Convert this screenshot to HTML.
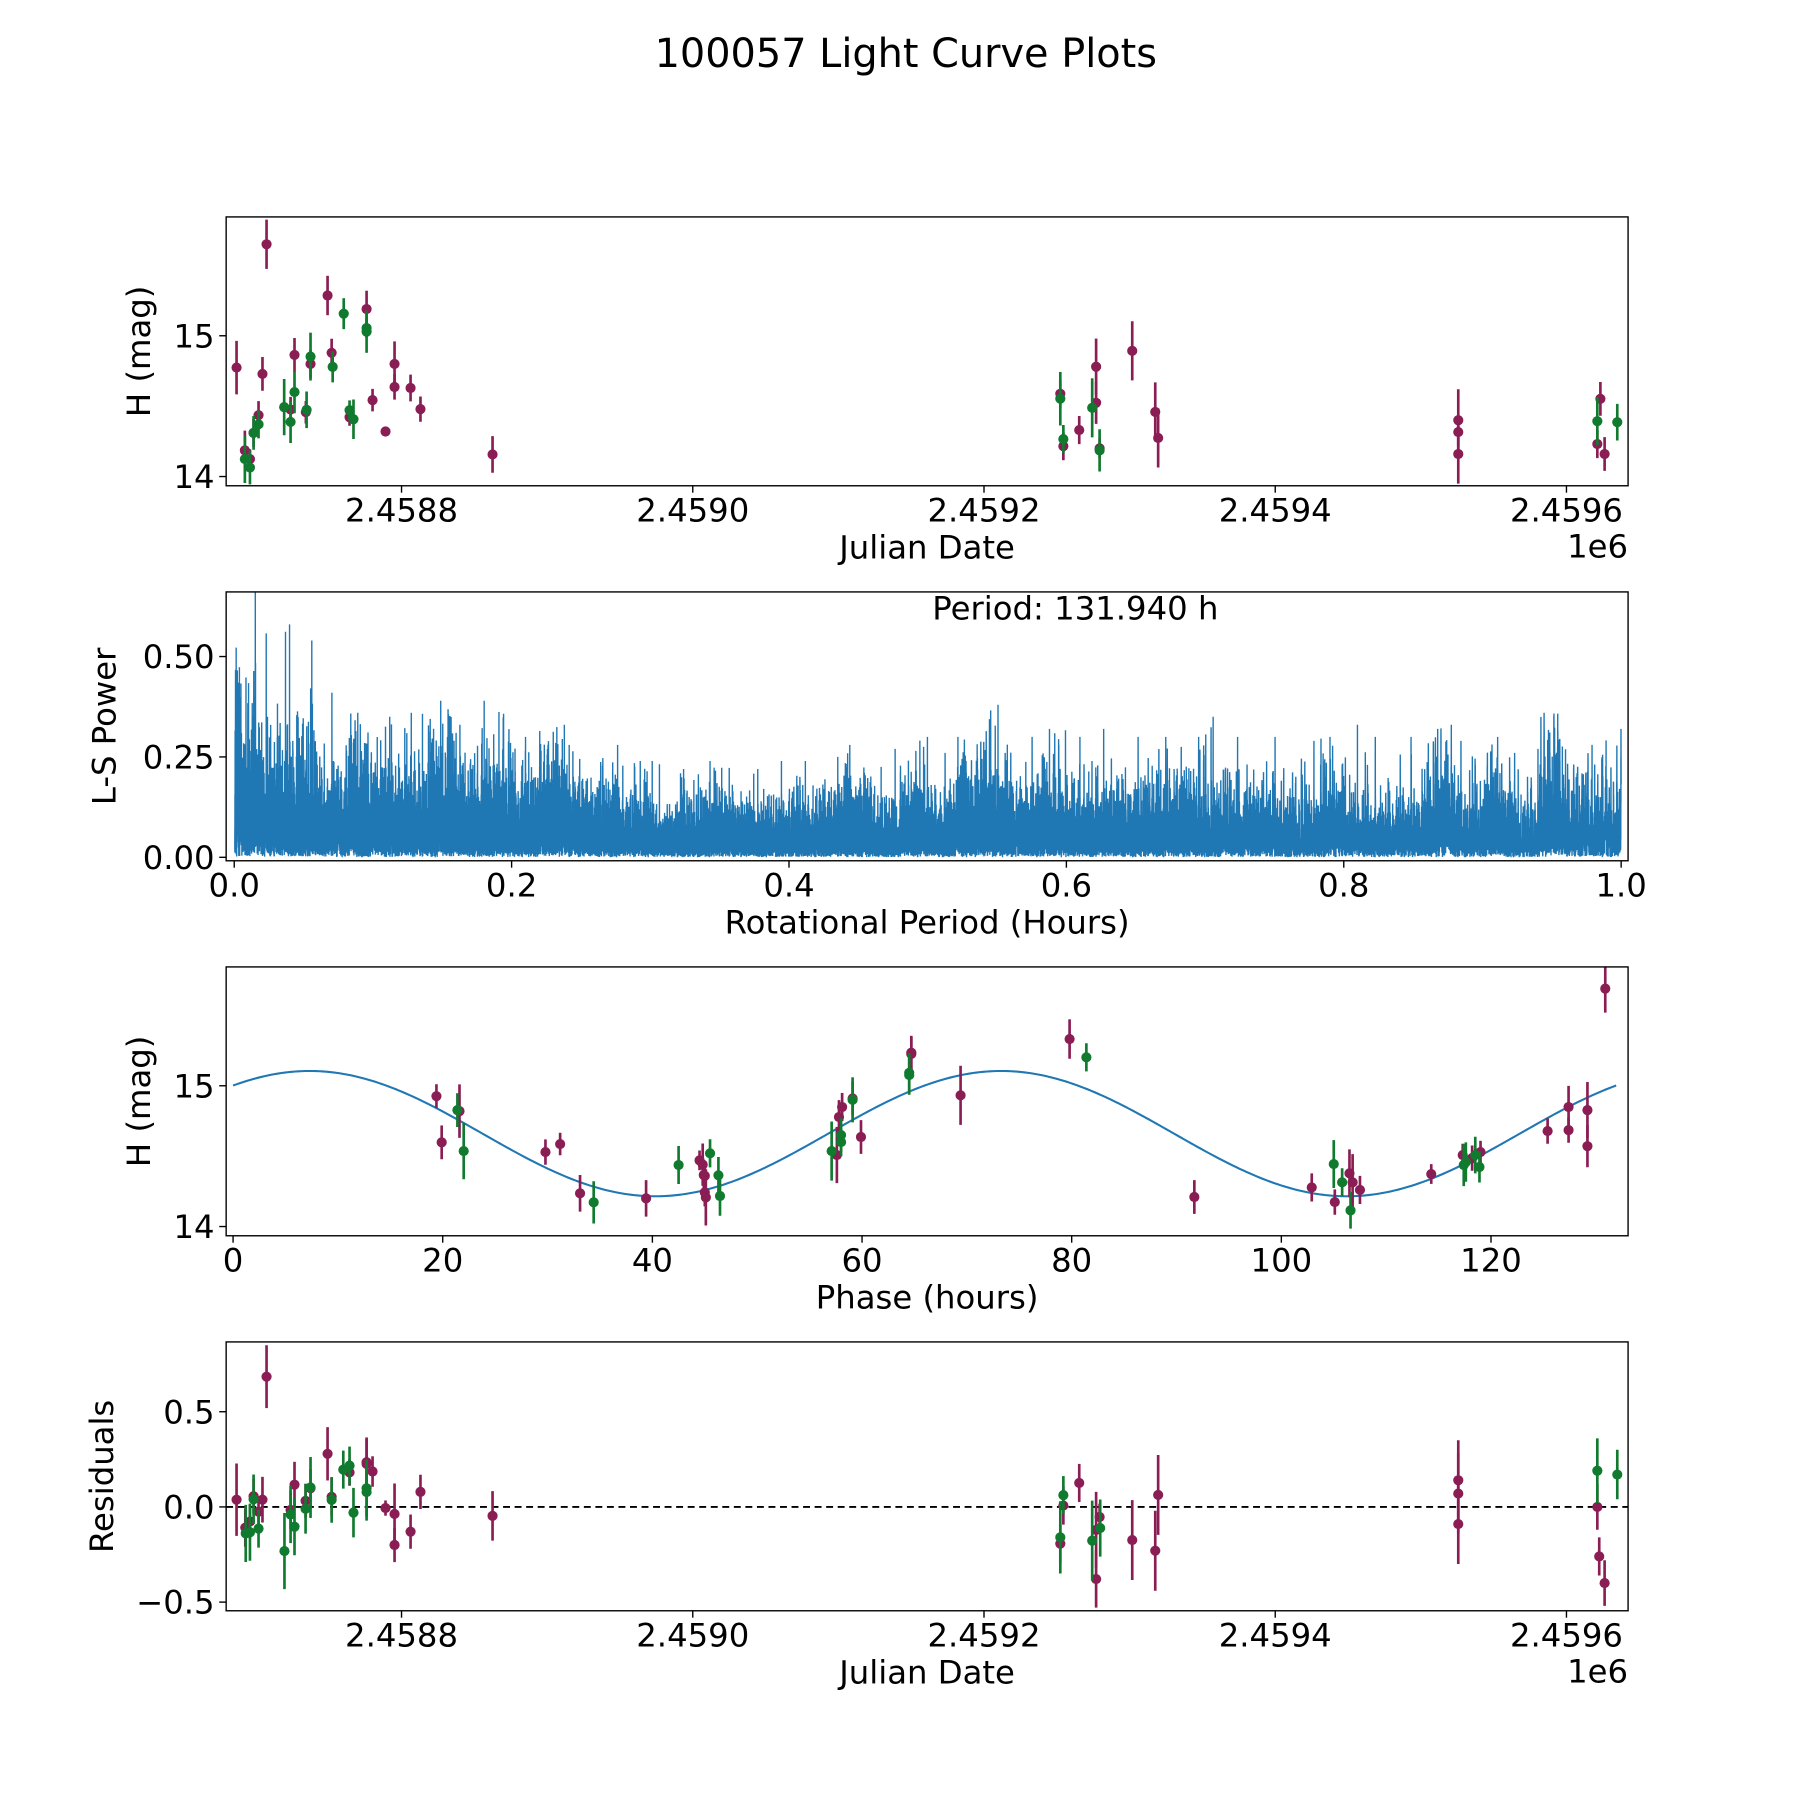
<!DOCTYPE html>
<html>
<head>
<meta charset="utf-8">
<style>
html,body{margin:0;padding:0;background:#fff;}
svg{display:block;font-family:"DejaVu Sans","Liberation Sans",sans-serif;}
</style>
</head>
<body>
<svg id="fig" width="1800" height="1800" viewBox="0 0 1560 1560" xmlns="http://www.w3.org/2000/svg">
<defs>
<clipPath id="c1"><rect x="196" y="188" width="1215" height="233"/></clipPath>
<clipPath id="c2"><rect x="196" y="513" width="1215" height="233"/></clipPath>
<clipPath id="c3"><rect x="196" y="838" width="1215" height="233"/></clipPath>
<clipPath id="c4"><rect x="196" y="1163" width="1215" height="233"/></clipPath>
</defs>
<text x="785" y="58" font-size="34.5" text-anchor="middle">100057 Light Curve Plots</text>
<g id="root"></g>
</svg>
<script>
// ---------- Panel 1: light curve (days from JD 2458800) ----------
const lcDays = [-113.3,-107.6,-104.1,-101.6,-98.2,-95.5,-92.7,-76.2,-73.5,-65.7,-62.5,-50.8,-48,-35.7,-24,-19.9,-11,-4.8,-4.8,6.2,13,62.5,
 -107.6,-104.1,-101.6,-98.2,-80.6,-76.2,-73.5,-65.2,-62.5,-47.3,-39.7,-35.7,-33,-24,-24,
 452.4,454.5,465.4,477,477,479.4,501.8,517.6,519.6,452.4,454.5,474.3,479.4,
 725.7,725.7,725.7,823.3,821.2,826.2,821.2,834.9];
const lcMag = [14.774,14.186,14.124,14.31,14.436,14.729,15.65,14.476,14.864,14.457,14.8,15.286,14.879,14.421,15.19,14.543,14.32,14.8,14.636,14.629,14.479,14.157,
 14.124,14.064,14.31,14.371,14.493,14.388,14.6,14.474,14.852,14.779,15.157,14.471,14.407,15.055,15.029,
 14.588,14.216,14.33,14.78,14.524,14.2,14.893,14.459,14.274,14.553,14.266,14.488,14.186,
 14.4,14.316,14.16,14.552,14.231,14.16,14.393,14.386];
const lcErr = [0.19,0.14,0.07,0.1,0.1,0.12,0.175,0.09,0.12,0.08,0.1,0.14,0.1,0.06,0.13,0.08,0.035,0.16,0.09,0.095,0.09,0.13,
 0.17,0.12,0.12,0.1,0.2,0.15,0.15,0.13,0.17,0.11,0.11,0.07,0.14,0.07,0.15,
 0.1,0.1,0.1,0.2,0.15,0.07,0.21,0.21,0.21,0.19,0.1,0.21,0.15,
 0.22,0.1,0.21,0.12,0.1,0.12,0.17,0.13];
const lcBand = [0,0,0,0,0,0,0,0,0,0,0,0,0,0,0,0,0,0,0,0,0,0,
 1,1,1,1,1,1,1,1,1,1,1,1,1,1,1,
 0,0,0,0,0,0,0,0,0,1,1,1,1,
 0,0,0,0,0,0,1,1];

// ---------- Panel 2: periodogram peak envelope per 0.02 h bin ----------
const lsPeak = [0.66,0.58,0.54,0.41,0.36,0.35,0.36,0.39,0.33,0.39,0.30,0.33,0.28,0.28,0.24,0.24,0.22,0.24,0.22,0.24,
 0.24,0.25,0.28,0.27,0.30,0.26,0.30,0.38,0.30,0.32,0.30,0.32,0.30,0.30,0.30,0.35,0.30,0.30,0.29,0.30,
 0.33,0.30,0.30,0.33,0.29,0.30,0.26,0.36,0.28,0.32];
const bestPeriod = "131.940";

// ---------- Panel 3: phase folded ----------
const phHours = [19.4,19.9,21.6,29.8,31.2,33.1,39.4,44.5,44.8,44.9,45.0,45.0,45.1,57.6,57.8,58.1,59.1,59.9,64.7,64.7,69.4,79.8,
 91.7,102.9,105.1,106.5,106.8,107.5,114.3,117.3,118.2,119.0,125.4,127.4,127.4,129.2,129.2,130.9,
 21.4,22.0,34.4,42.5,45.5,46.3,46.45,57.1,58.0,58.0,59.1,64.5,64.5,81.4,105.0,105.8,106.6,117.4,117.6,118.5,118.9];
const phMag = [14.926,14.598,14.82,14.529,14.586,14.236,14.2,14.47,14.44,14.366,14.36,14.243,14.207,14.508,14.778,14.849,14.91,14.636,15.235,15.226,14.932,15.332,
 14.21,14.278,14.174,14.378,14.314,14.26,14.373,14.508,14.486,14.529,14.678,14.849,14.685,14.827,14.571,15.69,
 14.827,14.536,14.172,14.437,14.52,14.364,14.217,14.536,14.65,14.6,14.9,15.092,15.076,15.202,14.444,14.314,14.115,14.437,14.458,14.508,14.423];
const phErr = [0.085,0.12,0.19,0.09,0.08,0.13,0.13,0.07,0.15,0.1,0.08,0.1,0.2,0.2,0.12,0.1,0.12,0.12,0.12,0.12,0.21,0.14,
 0.12,0.1,0.09,0.17,0.2,0.1,0.07,0.08,0.09,0.08,0.09,0.15,0.09,0.2,0.15,0.17,
 0.12,0.2,0.15,0.135,0.1,0.13,0.14,0.21,0.12,0.1,0.16,0.14,0.14,0.1,0.17,0.1,0.13,0.15,0.14,0.13,0.11];
const phBand = [0,0,0,0,0,0,0,0,0,0,0,0,0,0,0,0,0,0,0,0,0,0,0,0,0,0,0,0,0,0,0,0,0,0,0,0,0,0,
 1,1,1,1,1,1,1,1,1,1,1,1,1,1,1,1,1,1,1,1,1];
const modelMean = 14.66, modelAmp = 0.445, modelPeak = 7.3, modelPeriod = 65.97;

// ---------- Panel 4: residuals ----------
const resDays = [-113.3,-107.3,-104.1,-101.6,-98.2,-95.5,-92.7,-76.2,-73.5,-65.9,-62.5,-50.8,-48,-35.7,-24,-24,-19.9,-11,-4.8,-4.8,6.2,13,62.5,
 -107,-104.1,-101.6,-98.2,-80.4,-76.2,-73.5,-65.9,-62.5,-48,-40,-35.7,-33,-24,-24,
 454.5,452.4,465.4,477,477,479.4,501.8,517.6,519.6,454.5,452.4,474.3,479.8,
 725.7,725.7,725.7,821.2,822.5,826.2,821.2,834.9];
const resVal = [0.038,-0.109,-0.077,0.056,-0.025,0.038,0.684,-0.016,0.117,0.032,0.098,0.279,0.053,0.181,0.235,0.226,0.186,-0.006,-0.037,-0.2,-0.13,0.079,-0.047,
 -0.139,-0.133,0.04,-0.114,-0.232,-0.04,-0.104,-0.01,0.102,0.037,0.196,0.217,-0.03,0.098,0.078,
 0.007,-0.193,0.126,-0.379,-0.121,-0.053,-0.174,-0.23,0.063,0.062,-0.16,-0.177,-0.111,
 0.14,0.07,-0.09,0.0,-0.26,-0.40,0.19,0.17];
const resErr = [0.19,0.1,0.09,0.09,0.08,0.12,0.165,0.1,0.12,0.09,0.1,0.14,0.1,0.07,0.13,0.13,0.08,0.04,0.16,0.09,0.09,0.09,0.13,
 0.15,0.15,0.13,0.1,0.2,0.15,0.15,0.13,0.16,0.12,0.1,0.1,0.13,0.15,0.15,
 0.1,0.1,0.1,0.15,0.2,0.07,0.21,0.21,0.21,0.1,0.19,0.21,0.15,
 0.21,0.21,0.21,0.12,0.1,0.12,0.17,0.13];
const resBand = [0,0,0,0,0,0,0,0,0,0,0,0,0,0,0,0,0,0,0,0,0,0,0,
 1,1,1,1,1,1,1,1,1,1,1,1,1,1,1,
 0,0,0,0,0,0,0,0,0,1,1,1,1,
 0,0,0,0,0,0,1,1];

const jdTicks = [-200,0,200,400,600,800];
const jdTickLabels = ["2.4586","2.4588","2.4590","2.4592","2.4594","2.4596"];
const magTicks = [14,15];
const powTicks = [0,0.25,0.5];
const powTickLabels = ["0.00","0.25","0.50"];
const perTicks = [0,0.2,0.4,0.6,0.8,1.0];
const perTickLabels = ["0.0","0.2","0.4","0.6","0.8","1.0"];
const phTicks = [0,20,40,60,80,100,120];
const resTicks = [-0.5,0,0.5];
const resTickLabels = ["\u22120.5","0.0","0.5"];

// ---------- axis functions ----------
const L = 196, R = 1411;
const P = {1:{t:188,b:421},2:{t:513,b:746},3:{t:838,b:1071},4:{t:1163,b:1396}};
const xJD = d => 348 + d * 1.262;
const yMag1 = m => 291 - (m - 15) * 122;
const xPer = p => 203 + p * 1202;
const yPow = v => 743 - v * 348;
const xPh = h => 202 + h * 9.085;
const yMag3 = m => 941 - (m - 15) * 122;
const yRes = r => 1306 - r * 165;
const COL = ["#8a1d54", "#107a2e"];
const NS = "http://www.w3.org/2000/svg";
const root = document.getElementById('root');

function mk(tag, attrs, parent) {
  const e = document.createElementNS(NS, tag);
  for (const k in attrs) e.setAttribute(k, attrs[k]);
  (parent || root).appendChild(e);
  return e;
}
function txt(x, y, s, size, anchor, parent) {
  const t = mk('text', {x: x, y: y, 'font-size': size, 'text-anchor': anchor || 'middle'}, parent);
  t.textContent = s;
  return t;
}

function frame(n, name) {
  const r = mk('rect', {x: L, y: P[n].t, width: R - L, height: P[n].b - P[n].t, fill: 'none', stroke: '#000', 'stroke-width': 1.2});
  
  
}
function xTicks(n, vals, labels, fx, name) {
  const g = mk('g', {});
  
  
  vals.forEach((v, i) => {
    const x = fx(v);
    if (x < L - 1 || x > R + 1) return;
    mk('line', {x1: x, x2: x, y1: P[n].b, y2: P[n].b + 6, stroke: '#000', 'stroke-width': 1.2}, g);
    txt(x, P[n].b + 31, labels[i], 28, 'middle', g);
  });
}
function yTicks(n, vals, labels, fy, name) {
  const g = mk('g', {});
  
  
  vals.forEach((v, i) => {
    const y = fy(v);
    mk('line', {x1: L - 6, x2: L, y1: y, y2: y, stroke: '#000', 'stroke-width': 1.2}, g);
    txt(L - 10, y + 10, labels[i], 28, 'end', g);
  });
}
function xLabel(n, s, name) {
  const t = txt((L + R) / 2, P[n].b + 63, s, 28);
  
  
}
function yLabel(n, x, s, name) {
  const cy = (P[n].t + P[n].b) / 2;
  const t = mk('text', {x: x, y: cy, 'font-size': 28, 'text-anchor': 'middle', transform: 'rotate(-90 ' + x + ' ' + cy + ')'});
  t.textContent = s;
  
  
}
function points(xs, ys, es, bands, fx, fy, clip, name) {
  const g = mk('g', {'clip-path': 'url(#' + clip + ')'});
  
  
  xs.forEach((xv, i) => {
    const x = fx(xv), c = COL[bands[i]];
    const y1 = fy(ys[i] - es[i]), y2 = fy(ys[i] + es[i]);
    const ln = mk('line', {x1: x, x2: x, y1: y1, y2: y2, stroke: c, 'stroke-width': 2.3}, g);
    
    
    const p = mk('circle', {cx: x, cy: fy(ys[i]), r: 4.4, fill: c}, g);
    
    
  });
}

// ===== Panel 1 =====
points(lcDays, lcMag, lcErr, lcBand, xJD, yMag1, 'c1', 'light-curve-points');
frame(1, 'light-curve-axes');
xTicks(1, jdTicks, jdTickLabels, xJD, 'light-curve-x-ticks');
yTicks(1, magTicks, ["14", "15"], yMag1, 'light-curve-y-ticks');
xLabel(1, 'Julian Date', 'light-curve-x-title');
yLabel(1, 130, 'H (mag)', 'light-curve-y-title');
(function(){ const t = txt(R, P[1].b + 62, '1e6', 28, 'end');   })();

// ===== Panel 2: Lomb-Scargle computed from the light curve, scaled to bin envelope =====
(function(){
  const N = 24000, pmin = 0.0004, pmax = 1.0;
  const n = lcDays.length;
  let mean = 0; lcMag.forEach(m => mean += m); mean /= n;
  const yv = lcMag.map(m => m - mean);
  let vr = 0; yv.forEach(v => vr += v * v);
  const per = [], pw = [];
  for (let k = 0; k < N; k++) {
    const Ph = pmin + (pmax - pmin) * k / (N - 1);
    const w = 2 * Math.PI / (Ph / 24);
    let s2 = 0, c2 = 0;
    for (let i = 0; i < n; i++) { s2 += Math.sin(2 * w * lcDays[i]); c2 += Math.cos(2 * w * lcDays[i]); }
    const tau = Math.atan2(s2, c2) / (2 * w);
    let yc = 0, ys = 0, cc = 0, ss = 0;
    for (let i = 0; i < n; i++) {
      const a = w * (lcDays[i] - tau), c = Math.cos(a), s = Math.sin(a);
      yc += yv[i] * c; ys += yv[i] * s; cc += c * c; ss += s * s;
    }
    per.push(Ph); pw.push(0.5 * (yc * yc / cc + ys * ys / ss) / vr);
  }
  const nb = lsPeak.length, bmax = new Array(nb).fill(1e-9);
  per.forEach((p, i) => { const b = Math.min(nb - 1, Math.floor(p / (1 / nb))); bmax[b] = Math.max(bmax[b], pw[i]); });
  let d = '';
  per.forEach((p, i) => {
    const b = Math.min(nb - 1, Math.floor(p / (1 / nb)));
    const v = Math.pow(pw[i] / bmax[b], 0.85) * lsPeak[b];
    d += (i ? 'L' : 'M') + xPer(p).toFixed(2) + ' ' + yPow(v).toFixed(2);
  });
  const g = mk('g', {'clip-path': 'url(#c2)'});
  
  
  const path = mk('path', {d: d, fill: 'none', stroke: '#1f77b4', 'stroke-width': 1.2, 'stroke-linejoin': 'bevel'}, g);
  
  
})();
frame(2, 'periodogram-axes');
xTicks(2, perTicks, perTickLabels, xPer, 'periodogram-x-ticks');
yTicks(2, powTicks, powTickLabels, yPow, 'periodogram-y-ticks');
xLabel(2, 'Rotational Period (Hours)', 'periodogram-x-title');
yLabel(2, 100, 'L-S Power', 'periodogram-y-title');
(function(){ const t = txt(932, 537, 'Period: ' + bestPeriod + ' h', 28);   })();

// ===== Panel 3 =====
(function(){
  let d = '';
  for (let k = 0; k <= 400; k++) {
    const h = 131.94 * k / 400;
    const m = modelMean + modelAmp * Math.cos(2 * Math.PI * (h - modelPeak) / modelPeriod);
    d += (k ? 'L' : 'M') + xPh(h).toFixed(2) + ' ' + yMag3(m).toFixed(2);
  }
  const p = mk('path', {d: d, fill: 'none', stroke: '#1f77b4', 'stroke-width': 1.8, 'clip-path': 'url(#c3)'});
  
  
})();
points(phHours, phMag, phErr, phBand, xPh, yMag3, 'c3', 'phase-points');
frame(3, 'phase-axes');
xTicks(3, phTicks, phTicks.map(String), xPh, 'phase-x-ticks');
yTicks(3, magTicks, ["14", "15"], yMag3, 'phase-y-ticks');
xLabel(3, 'Phase (hours)', 'phase-x-title');
yLabel(3, 130, 'H (mag)', 'phase-y-title');

// ===== Panel 4 =====
(function(){
  const l = mk('line', {x1: L, x2: R, y1: yRes(0), y2: yRes(0), stroke: '#000', 'stroke-width': 1.6, 'stroke-dasharray': '6,4'});
  
  
})();
points(resDays, resVal, resErr, resBand, xJD, yRes, 'c4', 'residual-points');
frame(4, 'residual-axes');
xTicks(4, jdTicks, jdTickLabels, xJD, 'residual-x-ticks');
yTicks(4, resTicks, resTickLabels, yRes, 'residual-y-ticks');
xLabel(4, 'Julian Date', 'residual-x-title');
yLabel(4, 98, 'Residuals', 'residual-y-title');
(function(){ const t = txt(R, P[4].b + 62, '1e6', 28, 'end');   })();
</script>
</body>
</html>
